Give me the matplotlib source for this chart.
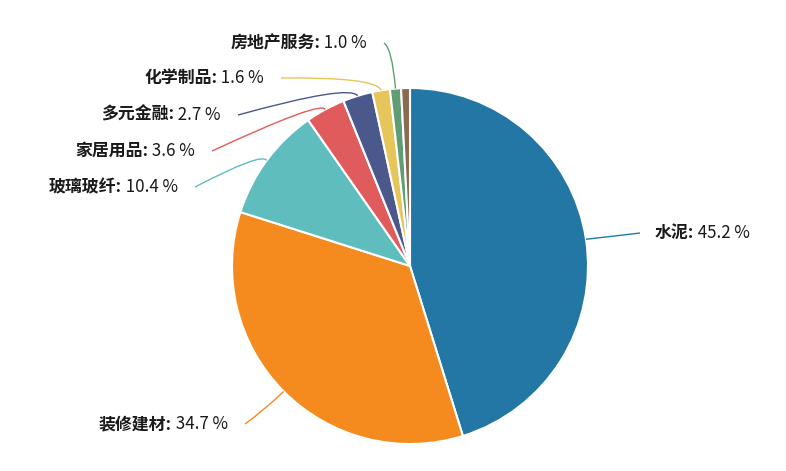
import numpy as np
import matplotlib.pyplot as plt
from matplotlib.path import Path
from matplotlib.patches import PathPatch

plt.rcParams['font.family'] = ['Noto Sans CJK SC', 'DejaVu Sans']

# industry share data
names = ["水泥", "装修建材", "玻璃玻纤", "家居用品", "多元金融", "化学制品", "房地产服务", "其他"]
shares = [45.2, 34.7, 10.4, 3.6, 2.7, 1.6, 1.0, 0.8]
colors = ["#2377a4", "#f58b1f", "#5fbdbd", "#e05c5c", "#4b588b", "#e6c55a", "#5f9e74", "#8b6a50"]
show_label = [True, True, True, True, True, True, True, False]

# label anchor (pixel coords of line end near text), bend point
label_pos = [(640, 233), (245, 424), (195, 187), (212, 151), (238, 115), (281, 78), (384, 43), None]
bend_pos = [(615, 236), (262, 412), (262, 152), (322, 100), (350, 84), (377, 77), (392, 48), None]

W, H = 786, 471
fig = plt.figure(figsize=(W / 100, H / 100), dpi=100)
ax = fig.add_axes([0, 0, 1, 1])

cx, cy, r = 410, H - 266, 178
wedges, _ = ax.pie(shares, colors=colors, startangle=90, counterclock=False,
                   center=(cx, cy), radius=r, normalize=True,
                   wedgeprops=dict(edgecolor="white", linewidth=1.5))
ax.set_aspect("equal")
ax.set_xlim(0, W)
ax.set_ylim(0, H)
ax.axis("off")

fs = 12.2
for w, name, val, col, show, lp, bp in zip(wedges, names, shares, colors, show_label, label_pos, bend_pos):
    if not show:
        continue
    mid = np.deg2rad((w.theta1 + w.theta2) / 2)
    sx, sy = cx + r * np.cos(mid), cy + r * np.sin(mid)
    ex, ey = lp[0], H - lp[1]
    bx, by = bp[0], H - bp[1]
    path = Path([(sx, sy), (bx, by), (ex, ey)], [Path.MOVETO, Path.CURVE3, Path.CURVE3])
    ax.add_patch(PathPatch(path, fill=False, edgecolor=col, linewidth=1.0))
    if ex > cx:
        t = ax.text(ex + 15, ey, name + ":", fontsize=fs, fontweight="bold",
                    ha="left", va="center", color="#1a1a1a")
        ax.annotate(" %.1f %%" % val, xy=(1, 0.5), xycoords=t, fontsize=fs,
                    fontweight="medium", ha="left", va="center", color="#1a1a1a")
    else:
        t = ax.text(ex - 17, ey, " %.1f %%" % val, fontsize=fs, fontweight="medium",
                    ha="right", va="center", color="#1a1a1a")
        ax.annotate(name + ":", xy=(0, 0.5), xycoords=t, fontsize=fs, fontweight="bold",
                    ha="right", va="center", color="#1a1a1a")

fig.savefig("out.png", dpi=100)
